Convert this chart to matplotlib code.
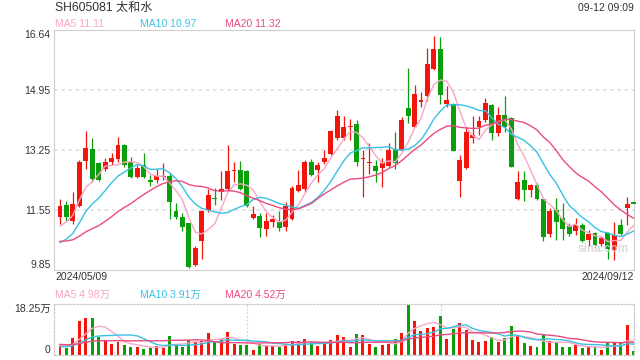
import matplotlib
matplotlib.use("Agg")
import matplotlib.pyplot as plt
import numpy as np
from matplotlib.patches import Rectangle

plt.rcParams["font.family"] = ["Liberation Sans", "Noto Sans CJK SC"]

TITLE = "SH605081 太和水"
STAMP = "09-12 09:09"
FIRST_DATE = "2024/05/09"
LAST_DATE = "2024/09/12"

# daily bars, 2024/05/09 .. 2024/09/12
opens = [
    11.35, 11.68, 11.23, 11.65, 12.93, 13.27, 12.87, 12.71, 12.89, 12.98,
    13.39, 12.91, 12.46, 12.82, 12.39, 12.38, 12.46, 12.50, 11.51, 11.33,
    11.16, 9.97, 10.66, 11.54, 11.87, 12.06, 12.12, 12.63, 12.67, 12.65,
    11.30, 11.37, 11.00, 11.20, 11.20, 11.06, 11.27, 12.08, 12.12, 12.91,
    12.67, 12.89, 13.12, 13.59, 13.58, 13.88, 13.97, 12.99, 12.87, 12.79,
    12.72, 12.79, 13.26, 13.24, 14.43, 13.90, 14.59, 14.76, 15.54, 16.11,
    14.55, 14.55, 12.37, 12.72, 13.57, 13.90, 14.08, 14.52, 13.73, 14.24,
    14.14, 11.84, 12.39, 12.09, 12.25, 11.84, 10.87, 11.54, 11.30, 11.08,
    10.95, 11.11, 10.70, 10.89, 10.57, 10.89, 10.40, 11.11, 11.58, 11.72,
]
closes = [
    11.65, 11.35, 11.71, 12.91, 13.29, 12.42, 12.39, 12.89, 13.01, 13.38,
    12.80, 12.46, 12.74, 12.46, 12.32, 12.50, 12.48, 11.77, 11.33, 11.06,
    9.92, 10.47, 11.51, 11.96, 11.85, 12.12, 12.65, 12.65, 12.12, 11.65,
    11.42, 11.03, 11.23, 11.28, 11.04, 11.65, 12.17, 12.25, 12.91, 12.53,
    12.82, 13.02, 13.78, 14.19, 13.90, 13.91, 12.91, 13.02, 12.90, 12.63,
    12.86, 13.24, 12.88, 14.10, 14.19, 14.83, 14.66, 15.69, 16.11, 14.81,
    14.66, 13.22, 12.96, 13.76, 13.67, 14.05, 14.57, 13.72, 14.24, 13.90,
    12.77, 12.34, 12.09, 12.25, 11.84, 10.76, 11.52, 11.20, 10.99, 10.87,
    11.11, 10.66, 10.85, 10.54, 10.73, 10.42, 10.82, 10.85, 11.70, 11.72,
]
highs = [
    11.85, 11.79, 12.04, 12.95, 13.78, 13.57, 12.91, 13.02, 13.15, 13.60,
    13.40, 13.03, 12.81, 13.15, 12.53, 12.69, 12.88, 12.58, 11.74, 11.44,
    11.18, 10.53, 11.54, 12.12, 12.15, 12.65, 13.38, 12.91, 12.93, 12.67,
    11.65, 11.44, 11.44, 11.39, 11.51, 11.77, 12.22, 12.67, 12.96, 12.98,
    12.91, 13.24, 13.81, 14.38, 14.21, 14.12, 14.08, 13.24, 13.45, 12.96,
    13.02, 13.45, 13.75, 14.16, 15.56, 15.09, 14.87, 16.13, 16.48, 16.45,
    15.06, 14.57, 13.10, 13.90, 14.21, 14.19, 14.71, 14.55, 14.47, 14.78,
    14.17, 12.65, 12.65, 12.27, 12.29, 11.87, 11.58, 11.87, 11.73, 11.16,
    11.30, 11.16, 10.97, 10.92, 10.80, 10.92, 11.20, 11.27, 11.91, 11.72,
]
lows = [
    11.14, 11.23, 11.14, 11.63, 12.70, 12.34, 12.36, 12.63, 12.82, 12.91,
    12.77, 12.44, 12.44, 12.43, 12.22, 12.29, 12.39, 11.27, 11.27, 10.95,
    9.90, 9.94, 10.16, 11.49, 11.68, 11.82, 12.10, 12.34, 12.10, 11.63,
    11.28, 10.78, 10.80, 11.06, 10.95, 10.95, 11.25, 12.04, 12.06, 12.50,
    12.32, 12.84, 13.10, 13.51, 13.51, 13.53, 12.79, 11.90, 12.56, 12.34,
    12.20, 12.77, 12.69, 13.22, 14.00, 13.89, 14.45, 14.62, 15.52, 14.55,
    14.45, 13.20, 11.91, 12.69, 13.43, 13.67, 14.02, 13.53, 13.64, 13.76,
    12.75, 11.82, 11.80, 11.91, 11.82, 10.66, 10.78, 10.70, 10.70, 10.80,
    10.82, 10.64, 10.51, 10.49, 10.51, 10.16, 10.11, 10.82, 11.11, 11.72,
]
# volume in 万 (10k shares)
volumes = [
    3.58, 2.63, 6.20, 12.16, 13.24, 13.24, 6.56, 5.01, 4.06, 4.77,
    3.58, 2.86, 2.86, 2.27, 2.63, 3.10, 2.63, 6.80, 3.94, 2.98,
    5.25, 4.77, 5.01, 7.99, 4.89, 5.61, 8.23, 4.06, 3.58, 3.58,
    1.91, 4.06, 3.46, 3.22, 2.86, 4.06, 5.01, 5.01, 5.73, 4.29,
    3.34, 4.18, 5.37, 7.16, 6.44, 2.86, 7.52, 7.16, 3.94, 2.86,
    3.58, 3.94, 5.73, 7.87, 17.90, 12.16, 8.59, 9.66, 10.02, 13.96,
    5.73, 9.31, 11.45, 8.95, 5.37, 4.65, 5.01, 6.44, 4.65, 6.08,
    10.38, 7.16, 4.29, 3.22, 2.86, 7.16, 5.01, 4.65, 2.86, 2.86,
    3.58, 2.50, 2.86, 2.86, 1.79, 4.29, 4.29, 4.29, 10.74, 1.50,
]
# 19 sessions before the window, only used to feed the moving averages
prior_closes = [
    11.2, 11.0, 10.9, 10.8, 10.7, 10.6, 10.5, 10.4, 10.4, 10.4,
    10.3, 10.1, 9.95, 10.05, 10.3, 10.75, 10.76, 10.76, 11.48,
]
prior_volumes = [
    5.2, 4.8, 4.9, 4.3, 4.6, 4.7, 4.2, 4.5, 4.4, 4.4,
    2.8, 2.5, 2.4, 2.7, 2.6, 3.1, 3.5, 3.3, 3.5,
]

ma_periods = [5, 10, 20]
ma_labels = ["MA5 11.11", "MA10 10.97", "MA20 11.32"]
vol_ma_labels = ["MA5 4.98万", "MA10 3.91万", "MA20 4.52万"]
price_ticks = [9.85, 11.55, 13.25, 14.95, 16.64]
price_grid = [11.55, 13.25, 14.95]
vol_ticks = [0, 18.25]
vol_tick_labels = ["0", "18.25万"]

RED = "#f2150c"
GREEN = "#0a9f0a"
MA_COLORS = ["#f9a6c4", "#36c2e2", "#ea4b80"]
TEXT = "#333333"
FRAME = "#cfcfcf"


def moving_average(values, prior, n):
    full = np.r_[prior, values]
    avg = np.convolve(full, np.ones(n) / n, mode="valid")
    return avg[-len(values):]


W, H = 640, 360
fig = plt.figure(figsize=(W / 100, H / 100), dpi=100)


def box(left, top, right, bottom):
    return [left / W, 1 - bottom / H, (right - left) / W, (bottom - top) / H]


ax = fig.add_axes(box(54, 30, 634, 269.5))
axv = fig.add_axes(box(54, 304, 634, 355))

x = np.arange(len(closes))
colors = [RED if c > o else GREEN for o, c in zip(opens, closes)]

for i, o, c, h, l, col in zip(x, opens, closes, highs, lows, colors):
    ax.vlines(i, l, h, color=col, lw=0.9, clip_on=False, zorder=2)
    lo, hi = min(o, c), max(o, c)
    ax.add_patch(Rectangle((i - 0.38, lo), 0.76, max(hi - lo, 0.03),
                           facecolor=col, edgecolor="none", clip_on=False, zorder=3))

for n, col in zip(ma_periods, MA_COLORS):
    ax.plot(x, moving_average(closes, prior_closes, n), color=col, lw=1.0, zorder=4)

for g in price_grid:
    ax.axhline(g, color="#e2e2e2", lw=1.3, ls=(0, (2, 2)), zorder=0)

ax.set_xlim(-0.93, 89.05)
ax.set_ylim(price_ticks[0], price_ticks[-1])
ax.set_xticks([])
ax.set_yticks(price_ticks)
ax.set_yticklabels([f"{t:.2f}" for t in price_ticks])
ax.tick_params(axis="y", length=0, pad=2.5, labelsize=7.5, labelcolor=TEXT)
labels = ax.get_yticklabels()
labels[0].set_va("bottom")
labels[-1].set_va("top")
for s in ax.spines.values():
    s.set_color(FRAME)
    s.set_linewidth(0.8)

# volume panel
axv.bar(x, volumes, width=0.46, color=colors, zorder=2)
for n, col in zip(ma_periods, MA_COLORS):
    axv.plot(x, moving_average(volumes, prior_volumes, n), color=col, lw=1.0, zorder=3)
for fx in (1 / 3, 2 / 3):
    axv.plot([fx, fx], [0, 1], transform=axv.transAxes, color="#d4d4d4",
             lw=0.9, ls=(0, (1.5, 1.5)), zorder=0)
axv.set_xlim(-0.93, 89.05)
axv.set_ylim(vol_ticks[0], vol_ticks[-1])
axv.set_xticks([])
axv.set_yticks(vol_ticks)
axv.set_yticklabels(vol_tick_labels)
axv.tick_params(axis="y", length=0, pad=2.5, labelsize=7.5, labelcolor=TEXT)
vlabels = axv.get_yticklabels()
vlabels[0].set_va("bottom")
vlabels[-1].set_va("top")
for s in axv.spines.values():
    s.set_color("#cccccc")
    s.set_linewidth(0.9)
    s.set_linestyle((0, (1.5, 1.5)))

# header texts
fig.text(55 / W, 1 - 8 / H, TITLE, fontsize=8.7, color=TEXT, va="center", ha="left")
fig.text(634 / W, 1 - 8 / H, STAMP, fontsize=7.5, color=TEXT, va="center", ha="right")
for px, lab, col in zip((55, 140, 225), ma_labels, MA_COLORS):
    fig.text(px / W, 1 - 24 / H, lab, fontsize=7.5, color=col, va="center", ha="left")
for px, lab, col in zip((55, 140, 225), vol_ma_labels, MA_COLORS):
    fig.text(px / W, 1 - 295 / H, lab, fontsize=7.5, color=col, va="center", ha="left")

fig.text(55 / W, 1 - 277 / H, FIRST_DATE, fontsize=7.5, color=TEXT, va="center", ha="left")
fig.text(634 / W, 1 - 277 / H, LAST_DATE, fontsize=7.5, color=TEXT, va="center", ha="right")

# watermark
fig.text(603 / W, 1 - 249 / H, "sina.com", fontsize=8.5, color="#d2d2d2",
         va="center", ha="center", fontweight="bold", alpha=0.8)

fig.savefig("out.png", dpi=100)
